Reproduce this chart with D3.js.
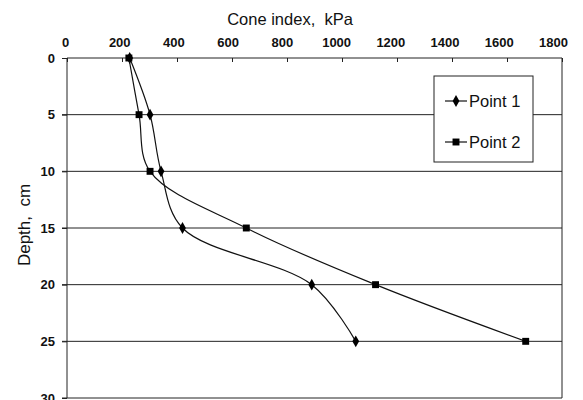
<!DOCTYPE html>
<html><head><meta charset="utf-8">
<script src="https://cdn.jsdelivr.net/npm/d3@7"></script>
<style>body{margin:0;background:#fff}svg{display:block}</style>
</head><body>
<script>
const depths = [0, 5, 10, 15, 20, 25];
const point1 = [228, 302, 342, 420, 890, 1050];
const point2 = [225, 262, 302, 652, 1122, 1668];
const xTicks = [0, 200, 400, 600, 800, 1000, 1200, 1400, 1600, 1800];
const yTicks = [0, 5, 10, 15, 20, 25, 30];
const seriesNames = ["Point 1", "Point 2"];

const W = 583, H = 400;
const svg = d3.select("body").append("svg").attr("width", W).attr("height", H);
const x = d3.scaleLinear().domain([0, 1800]).range([67, 562]);
const xLab = d3.scaleLinear().domain([0, 1800]).range([65, 553]);
const y = d3.scaleLinear().domain([0, 30]).range([58, 398]);
const font = "Liberation Sans, Arial, sans-serif";

// gridlines
svg.append("g").selectAll("line").data(yTicks.slice(1)).join("line")
  .attr("x1", 62).attr("x2", x(1800)).attr("y1", d => y(d)).attr("y2", d => y(d))
  .attr("stroke", "#222").attr("stroke-width", 1);

// plot border (top, left, right)
svg.append("path").attr("d", `M${x(0)},${y(30)}V${y(0)}H${x(1800)}V${y(30)}`)
  .attr("fill", "none").attr("stroke", "#222").attr("stroke-width", 1);

// top axis tick marks
const xa = svg.append("g").attr("transform", `translate(0,${y(0)})`)
  .call(d3.axisTop(x).tickValues(xTicks).tickSizeInner(-4).tickSizeOuter(0).tickFormat(""));
xa.select(".domain").remove();
xa.selectAll("line").attr("stroke", "#222");
// top axis labels
const xl = svg.append("g").attr("transform", `translate(0,${y(0)})`)
  .call(d3.axisTop(xLab).tickValues(xTicks).tickSize(0).tickPadding(11).tickFormat(d3.format("d")));
xl.select(".domain").remove();
xl.selectAll("text").attr("font-family", font).attr("font-size", 13).attr("font-weight", "bold").attr("fill", "#111");

// left axis
const ya = svg.append("g").attr("transform", `translate(${x(0)},0)`)
  .call(d3.axisLeft(y).tickValues(yTicks).tickSize(5).tickPadding(7));
ya.select(".domain").remove();
ya.selectAll("text").attr("font-family", font).attr("font-size", 13).attr("font-weight", "bold").attr("fill", "#111");
ya.selectAll("line").attr("stroke", "#222");

// titles
svg.append("text").attr("x", 290).attr("y", 25).attr("text-anchor", "middle")
  .attr("font-family", font).attr("font-size", 16.5).attr("fill", "#111").attr("xml:space", "preserve")
  .text("Cone index,  kPa");
svg.append("text").attr("transform", `translate(30,225) rotate(-90)`).attr("text-anchor", "middle")
  .attr("font-family", font).attr("font-size", 17).attr("fill", "#111").attr("xml:space", "preserve")
  .text("Depth,  cm");

// series
const line = d3.line().x(d => x(d[0])).y(d => y(d[1])).curve(d3.curveCatmullRom.alpha(0.5));
const data = [point1.map((v, i) => [v, depths[i]]), point2.map((v, i) => [v, depths[i]])];
data.forEach((s, k) => {
  svg.append("path").datum(s).attr("d", line).attr("fill", "none").attr("stroke", "#111").attr("stroke-width", 1.2);
  const sym = k === 0 ? d3.symbolDiamond : d3.symbolSquare;
  const size = k === 0 ? 40 : 48;
  svg.append("g").selectAll("path").data(s).join("path")
    .attr("transform", d => `translate(${x(d[0])},${y(d[1])})`)
    .attr("d", d3.symbol(sym, size)).attr("fill", "#000");
});

// legend
const lg = svg.append("g");
lg.append("rect").attr("x", 434).attr("y", 76).attr("width", 99).attr("height", 86)
  .attr("fill", "#fff").attr("stroke", "#222").attr("stroke-width", 1);
seriesNames.forEach((n, k) => {
  const yy = k === 0 ? 101 : 142;
  lg.append("line").attr("x1", 445).attr("x2", 467).attr("y1", yy).attr("y2", yy).attr("stroke", "#111").attr("stroke-width", 1.2);
  lg.append("path").attr("transform", `translate(456,${yy})`)
    .attr("d", d3.symbol(k === 0 ? d3.symbolDiamond : d3.symbolSquare, k === 0 ? 40 : 48)).attr("fill", "#000");
  lg.append("text").attr("x", 469).attr("y", yy + 6).attr("font-family", font).attr("font-size", 16.5).attr("fill", "#111").text(n);
});
</script>
</body></html>
